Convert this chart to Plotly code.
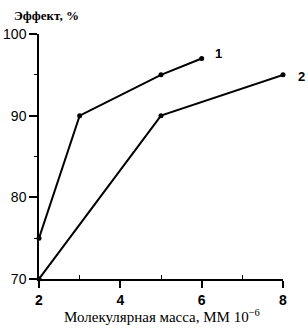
import plotly.graph_objects as go

x1 = [2, 3, 5, 6]
y1 = [75, 90, 95, 97]
x2 = [2, 5, 8]
y2 = [70, 90, 95]
xticks = [2, 4, 6, 8]
yticks = [70, 80, 90, 100]

fig = go.Figure()
for xs, ys, lab, dx, dy in [(x1, y1, "1", 11, 5), (x2, y2, "2", 13, -2)]:
    fig.add_trace(go.Scatter(x=xs, y=ys, mode="lines+markers",
                             line=dict(color="black", width=2),
                             marker=dict(color="black", size=5),
                             cliponaxis=False, showlegend=False))
    fig.add_annotation(x=xs[-1], y=ys[-1], text="<b>" + lab + "</b>", showarrow=False,
                       xanchor="left", yanchor="middle", xshift=dx, yshift=dy,
                       font=dict(family="Liberation Sans", size=13, color="black"))

fig.update_layout(
    width=308, height=329, margin=dict(l=39, r=25, t=34, b=50, autoexpand=False),
    paper_bgcolor="white", plot_bgcolor="white",
    font=dict(family="Liberation Sans", size=13, color="black"),
)
fig.update_xaxes(range=[2, 8], tickvals=xticks, ticktext=["<b>%d</b>" % v for v in xticks],
                 showgrid=False, zeroline=False, showline=True, linecolor="black", linewidth=1.5,
                 ticks="outside", ticklen=7, tickwidth=1.5, tickcolor="black",
                 minor=dict(tickvals=[3, 5, 7], ticks="inside", ticklen=4, tickwidth=1, tickcolor="black"),
                 tickfont=dict(size=14), automargin=False)
fig.update_yaxes(range=[70, 100], tickvals=yticks,
                 showgrid=False, zeroline=False, showline=True, linecolor="black", linewidth=1.5,
                 ticks="outside", ticklen=8, tickwidth=1.5, tickcolor="black",
                 minor=dict(tickvals=[75, 85, 95], ticks="outside", ticklen=3, tickwidth=1, tickcolor="black"),
                 tickfont=dict(size=14), automargin=False)
fig.add_annotation(xref="paper", yref="paper", x=-27 / 244, y=1 + 9 / 245, xanchor="left", yanchor="bottom",
                   text="<b>Эффект, %</b>", showarrow=False,
                   font=dict(family="Liberation Serif", size=13, color="black"))
fig.add_annotation(xref="paper", yref="paper", x=(162 - 39) / 244, y=-37 / 245, xanchor="center", yanchor="middle",
                   text="Молекулярная масса, ММ 10<sup>−6</sup>", showarrow=False,
                   font=dict(family="Liberation Serif", size=15, color="black"))
fig.write_html("out.html")
